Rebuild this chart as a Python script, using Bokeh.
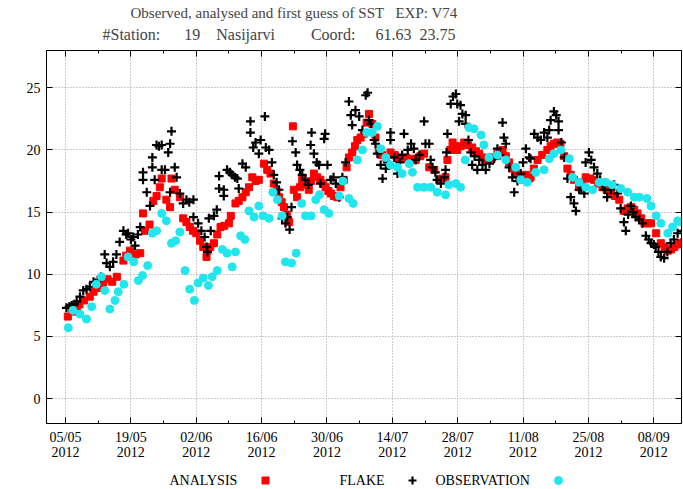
import numpy as np
import pandas as pd
from bokeh.plotting import figure
from bokeh.models import (DatetimeAxis, LinearAxis, FixedTicker, Range1d, Title, DatetimeTickFormatter)
from bokeh.layouts import column
from bokeh.embed import file_html
from bokeh.resources import INLINE
from bokeh.core.properties import value

# ---------------- data (days after 05/05/2012, SST in deg C) ----------------
START = "2012-05-05"

analysis_day = [0.5, 1.5, 2.5, 3, 4, 5.2, 6, 7, 8, 9, 10, 11, 12.4, 13, 13.8, 15, 16, 16.6, 17, 18,
                18.8, 19.5, 20.2, 20.6, 21.6, 22.4, 22.7, 23.4, 24.5, 25.2, 25.9, 26.6, 27.3, 28, 28.8,
                29.5, 30.2, 30.4, 31, 31.8, 32.5, 33.2, 34, 35, 35.4, 36.4, 37.1, 37.9, 38.6, 39.3, 40,
                40.7, 41.4, 42.5, 43.2, 43.9, 44.6, 45.2, 45.7, 46.3, 46.8, 47.4, 47.9, 48.7, 48.9, 49.6,
                50.2, 50.7, 51.4, 52.1, 52.6, 53.2, 53.9, 54.6, 55.2, 55.7, 56.3, 56.8, 57.5, 58.2, 58.9,
                59.6, 60.2, 60.7, 61.4, 62, 62.5, 63.2, 63.9, 64.5, 65, 65.7, 66.4, 67.1, 67.8, 68.6, 69.6,
                70.5, 71.4, 72.2, 72.9, 74, 75, 76, 76.8, 77.9, 79, 80, 80.7, 81.4, 81.8, 82.4, 82.9, 83.4,
                83.9, 84.6, 85.4, 86.2, 87.1, 87.9, 88.6, 89.3, 90, 90.7, 91.4, 92.5, 93.6, 94.3, 95, 95.7,
                96.4, 97.2, 97.9, 98.6, 99.3, 99.6, 100.3, 101.1, 102.1, 103.2, 103.9, 104.6, 105.3, 106,
                106.8, 107.5, 108.2, 108.9, 110, 110.7, 111.4, 112.3, 113.2, 114.1, 115, 115.9, 116.8,
                117.7, 118.6, 119.6, 120.4, 121.1, 121.8, 122.5, 123.3, 124, 124.7, 125.4, 126.5, 127.5,
                128.3, 129, 129.7, 130.4, 131.1, 131.8, 132.5]
analysis_sst = [6.6, 7.0, 7.3, 7.6, 7.9, 8.2, 8.6, 8.9, 9.3, 9.6, 9.4, 9.8, 11.1, 11.5, 11.9, 11.6, 11.7, 14.9,
                13.5, 14.0, 15.9, 16.3, 17.0, 17.7, 16.0, 15.4, 17.7, 16.8, 16.2, 14.5, 14.2, 13.8, 13.5, 13.3,
                12.7, 12.2, 11.4, 11.9, 12.2, 12.5, 13.2, 13.8, 13.9, 14.1, 14.7, 15.7, 15.9, 16.2, 16.6, 17.0,
                17.8, 17.5, 17.6, 18.9, 18.4, 18.1, 17.3, 16.7, 16.2, 15.8, 15.4, 14.8, 14.2, 21.9, 16.8, 16.2,
                17.0, 17.6, 17.2, 16.8, 17.5, 18.1, 17.8, 17.6, 17.3, 17.0, 16.7, 16.5, 16.3, 16.2, 17.0, 17.6,
                18.6, 19.4, 19.8, 20.3, 20.8, 21.0, 21.3, 22.2, 22.9, 22.1, 21.0, 20.0, 19.6, 19.4, 19.8, 19.6,
                19.4, 19.3, 19.4, 19.3, 19.2, 19.5, 19.7, 18.6, 18.4, 17.6, 17.7, 17.8, 19.2, 20.0, 20.6, 20.3,
                20.0, 20.3, 20.6, 20.4, 20.2, 19.9, 19.7, 19.4, 19.2, 19.3, 19.4, 19.7, 20.0, 19.5, 19.0, 18.5,
                18.1, 17.8, 17.6, 18.0, 17.7, 17.8, 18.5, 19.2, 19.6, 20.0, 20.3, 20.5, 20.6, 20.5, 19.5, 18.5,
                18.0, 17.6, 17.0, 17.4, 17.8, 17.7, 17.6, 17.3, 17.0, 16.8, 16.6, 16.3, 16.0, 15.1, 15.3, 15.4,
                15.2, 14.9, 14.5, 14.1, 14.1, 14.1, 13.3, 12.5, 12.2, 11.9, 12.0, 12.2, 12.4, 12.5, 12.6]

flake_day = [0.2, 0.8, 1.3, 1.9, 2.4, 3.1, 3.8, 4.5, 5.2, 6.0, 6.5, 7.0, 7.6, 8.4, 8.8, 9.5, 10.2, 10.9, 11.6,
             12.4, 13.0, 13.4, 14.0, 14.5, 14.9, 15.5, 16.0, 16.6, 16.6, 17.4, 18.1, 18.6, 18.6, 19.1, 19.5,
             20.0, 20.6, 20.6, 21.3, 22.0, 22.4, 22.7, 22.4, 23.4, 23.8, 24.5, 25.2, 25.9, 26.5, 27.4, 27.4,
             28.4, 29.1, 29.8, 30.2, 30.4, 30.7, 31.1, 31.8, 32.4, 32.9, 32.9, 33.9, 33.9, 34.6, 35.2, 35.7,
             36.3, 36.8, 37.1, 37.9, 38.6, 39.6, 39.6, 40.2, 40.7, 41.4, 41.8, 42.7, 42.9, 43.6, 44.2, 44.6,
             45.2, 45.7, 46.4, 47.1, 47.5, 48.0, 48.4, 48.6, 49.3, 49.6, 50.2, 50.7, 51.4, 52.0, 52.5, 52.7,
             53.2, 53.8, 54.3, 54.6, 55.4, 55.6, 56.1, 56.8, 57.4, 57.9, 58.6, 59.3, 60.0, 60.7, 61.1, 61.4,
             62.1, 62.9, 63.6, 64.3, 64.7, 65.0, 65.4, 66.1, 66.4, 66.8, 67.5, 67.9, 68.6, 69.0, 69.6, 69.6,
             70.4, 71.1, 71.6, 72.1, 72.5, 73.3, 74.0, 74.6, 75.0, 75.8, 76.8, 77.1, 77.9, 78.2, 78.6, 79.2,
             79.6, 80.4, 81.1, 81.4, 81.6, 81.8, 82.5, 83.0, 83.6, 83.9, 84.3, 84.6, 85.0, 85.7, 85.7, 86.3,
             86.8, 87.1, 87.6, 88.2, 88.6, 89.3, 90.0, 90.8, 91.8, 92.5, 93.0, 93.6, 93.9, 94.3, 95.0, 95.7,
             96.1, 96.8, 97.5, 98.0, 98.6, 99.3, 99.6, 100.4, 101.1, 101.8, 102.5, 103.2, 103.6, 103.9,
             104.6, 105.1, 105.6, 105.6, 106.2, 106.8, 107.5, 108.2, 108.9, 109.3, 110.0, 110.5, 111.1,
             111.4, 112.1, 112.6, 113.2, 113.9, 114.5, 115.0, 115.5, 116.0, 116.8, 117.5, 118.2, 118.9,
             119.6, 120.0, 120.5, 121.1, 121.6, 122.1, 122.9, 123.6, 124.3, 124.9, 125.4, 126.0, 126.4,
             127.0, 127.5, 128.2, 128.9, 129.6, 130.3, 131.1, 132.1]
flake_sst = [7.3, 7.4, 7.5, 7.6, 7.8, 8.2, 8.7, 8.8, 9.0, 9.4, 9.3, 9.5, 9.8, 11.6, 10.9, 10.6, 11.0, 11.6, 12.6,
             13.5, 13.2, 13.3, 12.8, 13.0, 12.3, 13.2, 13.8, 18.2, 17.6, 16.6, 15.5, 19.4, 18.6, 17.6, 20.4,
             20.3, 20.4, 18.4, 18.4, 19.8, 20.5, 21.5, 16.6, 18.6, 17.8, 16.5, 15.7, 16.0, 15.8, 16.0, 14.6,
             14.1, 13.5, 13.0, 12.2, 11.8, 14.5, 13.5, 14.7, 15.2, 17.9, 16.9, 16.8, 16.3, 18.4, 18.2, 18.0,
             17.8, 17.7, 16.9, 18.9, 18.6, 22.3, 21.4, 20.2, 20.6, 19.7, 20.8, 22.7, 20.2, 20.0, 19.0, 18.0,
             17.4, 16.8, 14.5, 14.1, 14.6, 13.6, 15.4, 20.7, 19.8, 18.8, 18.4, 18.0, 17.6, 17.2, 20.4, 21.4,
             19.7, 19.0, 18.8, 17.3, 20.9, 21.3, 18.8, 17.6, 17.8, 17.3, 16.2, 17.8, 19.0, 23.9, 22.8, 22.0,
             23.2, 22.7, 21.6, 24.4, 24.6, 22.4, 22.1, 20.8, 20.5, 19.7, 18.8, 17.7, 18.5, 19.0, 21.4, 20.8,
             19.4, 18.1, 19.0, 19.6, 21.3, 20.0, 20.5, 20.1, 19.2, 19.6, 22.3, 20.5, 20.5, 19.2, 18.6, 18.2,
             17.6, 17.3, 17.8, 18.4, 19.8, 21.3, 23.7, 24.3, 24.5, 23.7, 22.3, 23.6, 22.9, 22.8, 22.1, 20.8,
             19.8, 18.8, 19.5, 18.4, 19.2, 18.8, 18.4, 18.9, 19.3, 20.1, 19.6, 22.2, 21.0, 20.5, 18.6, 17.8,
             16.6, 17.5, 18.1, 19.0, 20.1, 19.4, 19.3, 21.3, 21.0, 20.8, 21.4, 21.0, 21.6, 22.4,
             23.1, 22.8, 22.3, 21.6, 20.6, 19.4, 17.7, 16.2, 15.7, 15.1, 16.8, 16.9, 16.5,
             19.0, 19.8, 19.2, 18.6, 18.1, 17.6, 17.2, 16.8, 16.2, 16.8, 17.2, 16.5, 15.3,
             14.2, 13.5, 14.8, 15.5, 15.0, 14.6, 14.4, 14.1, 13.1, 12.8, 12.5, 12.4, 12.2,
             11.8, 11.4, 11.3, 11.8, 12.5, 12.8, 13.3, 13.5]

obs_day = [0.6, 1.6, 3.1, 4.5, 5.6, 6.6, 7.7, 8.4, 9.5, 10.6, 11.3, 12.5, 13.4, 14.6, 15.6, 16.5, 17.6, 18.6,
           19.5, 20.6, 21.6, 22.7, 23.6, 24.5, 25.6, 26.6, 27.6, 28.4, 29.5, 30.6, 31.4, 32.5, 33.6, 34.6,
           35.7, 36.4, 37.5, 38.4, 39.3, 40.4, 41.4, 42.3, 43.6, 44.4, 45.4, 46.4, 47.1, 48.4, 49.4, 50.6,
           51.4, 52.6, 53.6, 54.4, 55.4, 56.4, 58.6, 59.4, 60.7, 61.6, 62.5, 63.6, 64.5, 65.7, 66.8, 67.5,
           68.6, 69.6, 71.1, 72.1, 73.6, 74.3, 75.4, 76.8, 78.2, 79.6, 81.4, 82.1, 83.6, 84.6, 85.6, 86.4,
           87.5, 89.0, 89.6, 90.7, 92.5, 94.3, 96.4, 97.5, 98.9, 100.7, 102.5, 103.6, 104.6, 106.1, 107.9,
           108.6, 110.0, 111.4, 112.9, 114.3, 115.7, 117.1, 118.9, 120.4, 121.8, 122.9, 124.5, 125.4, 126.5,
           127.5, 129.0, 130.0, 131.1, 131.8]
obs_sst = [5.7, 7.1, 6.8, 6.4, 7.4, 9.2, 9.8, 8.7, 7.2, 7.9, 8.6, 9.2, 11.4, 11.0, 9.5, 9.9, 10.7, 13.3,
           13.5, 14.9, 14.3, 12.5, 12.7, 13.4, 10.3, 8.8, 7.9, 9.3, 9.7, 9.1, 9.8, 10.3, 12.0, 11.7,
           10.6, 11.8, 13.1, 12.8, 15.1, 14.6, 15.5, 14.7, 14.5, 16.6, 16.0, 14.7, 11.0, 10.9, 11.7, 15.7,
           14.7, 14.7, 16.0, 16.4, 15.2, 14.9, 16.3, 17.5, 16.1, 15.7, 19.2, 20.0, 21.4, 21.4, 21.9, 20.1,
           19.4, 18.8, 18.6, 18.1, 18.9, 18.2, 17.0, 17.0, 17.0, 16.6, 16.4, 17.2, 17.3, 17.0, 19.2, 21.8,
           21.7, 21.2, 20.4, 19.4, 19.6, 19.2, 18.6, 17.6, 17.4, 18.2, 18.4, 19.3, 19.7, 20.0, 19.3,
           17.8, 17.4, 17.0, 16.8, 17.4, 17.4, 17.2, 16.9, 16.6, 16.2, 16.2, 16.1, 15.5, 14.7,
           14.1, 13.3, 13.8, 14.3, 14.2]

major_tick_days = [0, 14, 28, 42, 56, 70, 84, 98, 112, 126]
minor_tick_days = [7, 21, 35, 49, 63, 77, 91, 105, 119]
y_ticks = [0, 5, 10, 15, 20, 25]
x_start_day, x_end_day = -4.07, 131.93
y_start, y_end = -2, 28


def gap(n):
    # n visible spaces that SVG will not collapse
    return "\u00a0" * (n - 1) + " "


title_line1 = "Observed, analysed and first guess of SST" + gap(3) + "EXP: V74"
title_line2 = ("#Station:" + gap(6) + "19" + gap(4) + "Nasijarvi" + gap(9) + "Coord:" + gap(5)
               + "61.63" + gap(2) + "23.75")
legend_labels = ["ANALYSIS", "FLAKE", "OBSERVATION"]

# ---------------- helpers ----------------
DAY_MS = 86400000.0
base_ms = pd.Timestamp(START).value / 1e6


def to_ms(days):
    return base_ms + np.asarray(days, dtype=float) * DAY_MS


FONT = "Liberation Serif"
RED = "#ff0000"
CYAN = "#22e6ee"

# layout (pixels)
FRAME_LEFT, FRAME_W, FRAME_RIGHT_PAD = 46, 635, 2
FRAME_TOP, FRAME_H, MAIN_H, LEG_H = 50, 373, 471, 18

p = figure(x_axis_type="datetime", width=FRAME_LEFT + FRAME_W + FRAME_RIGHT_PAD, height=MAIN_H,
           frame_width=FRAME_W, frame_height=FRAME_H,
           x_range=Range1d(to_ms(x_start_day), to_ms(x_end_day)),
           y_range=Range1d(y_start, y_end),
           toolbar_location=None, output_backend="svg", title=None,
           min_border_left=FRAME_LEFT, min_border_right=FRAME_RIGHT_PAD, min_border_top=FRAME_TOP,
           min_border_bottom=MAIN_H - FRAME_TOP - FRAME_H)
p.background_fill_color = "white"
p.border_fill_color = "white"
p.outline_line_color = "black"
p.outline_line_width = 1

xticker = FixedTicker(ticks=list(to_ms(major_tick_days)), minor_ticks=list(to_ms(minor_tick_days)))
yticker = FixedTicker(ticks=y_ticks, minor_ticks=[])

f = "%d/%m\n%Y"
xfmt = DatetimeTickFormatter(milliseconds=f, seconds=f, minsec=f, minutes=f, hourmin=f,
                             hours=f, days=f, months=f, years=f)

for ax in p.xaxis:
    ax.ticker = xticker
    ax.formatter = xfmt
for ax in p.yaxis:
    ax.ticker = yticker

# mirror axes on top / right: ticks only (labels not drawn)
top_ax = DatetimeAxis(ticker=xticker, formatter=xfmt)
right_ax = LinearAxis(ticker=yticker)
p.add_layout(top_ax, "above")
p.add_layout(right_ax, "right")

for ax in list(p.xaxis) + list(p.yaxis):
    ax.axis_line_color = "black"
    ax.major_tick_line_color = "black"
    ax.minor_tick_line_color = "black"
    ax.major_tick_in = 6
    ax.major_tick_out = 0
    ax.minor_tick_in = 3
    ax.minor_tick_out = 0
    ax.major_label_text_font = FONT
    ax.major_label_text_font_size = "14px"
    ax.major_label_text_color = "black"
    ax.major_label_standoff = 6
p.xaxis.major_label_text_line_height = 1.0
right_ax.minor_tick_in = 0
for ax in (top_ax, right_ax):
    ax.major_label_text_color = None
    ax.major_label_text_font_size = "1px"
    ax.major_label_standoff = 0

p.xgrid.ticker = xticker
p.ygrid.ticker = yticker
for g in (p.xgrid, p.ygrid):
    g.grid_line_color = "#9a9a9a"
    g.grid_line_dash = "1 2"
    g.grid_line_width = 1

p.add_layout(Title(text=title_line2, align="left", offset=56, text_font=FONT,
                   text_font_size="16px", text_font_style="normal", standoff=15), "above")
p.add_layout(Title(text=title_line1, align="left", offset=84, text_font=FONT,
                   text_font_size="15px", text_font_style="normal", standoff=-9), "above")

# data
p.scatter(to_ms(analysis_day), analysis_sst, marker="square", size=7,
          fill_color=RED, line_color=RED)
p.scatter(to_ms(flake_day), flake_sst, marker="cross", size=9, line_width=2.2,
          line_color="black")
p.scatter(to_ms(obs_day), obs_sst, marker="circle", size=8,
          fill_color=CYAN, line_color=CYAN)

# legend strip (gnuplot style: label then sample); x in page pixels
leg = figure(width=FRAME_LEFT + FRAME_W + FRAME_RIGHT_PAD, height=LEG_H, frame_width=FRAME_W,
             frame_height=LEG_H,
             x_range=Range1d(FRAME_LEFT, FRAME_LEFT + FRAME_W), y_range=Range1d(0, 1),
             toolbar_location=None, output_backend="svg", x_axis_location=None,
             y_axis_location=None, min_border_left=FRAME_LEFT, min_border_right=FRAME_RIGHT_PAD,
             min_border_top=0, min_border_bottom=0)
leg.outline_line_color = None
leg.grid.visible = False
leg_text_x = [169, 339, 435]
leg_sample_x = [265, 412, 558]
leg.text(x=leg_text_x, y=[0.5] * 3, text=legend_labels, text_font=value(FONT),
         text_font_size="14px", text_baseline="middle", text_align="left", text_color="black")
leg.scatter([leg_sample_x[0]], [0.5], marker="square", size=7, fill_color=RED, line_color=RED)
leg.scatter([leg_sample_x[1]], [0.5], marker="cross", size=8, line_width=2.2, line_color="black")
leg.scatter([leg_sample_x[2]], [0.5], marker="circle", size=8, fill_color=CYAN, line_color=CYAN)

layout = column(p, leg, spacing=0)
open("out.html", "w").write(file_html(layout, INLINE))
